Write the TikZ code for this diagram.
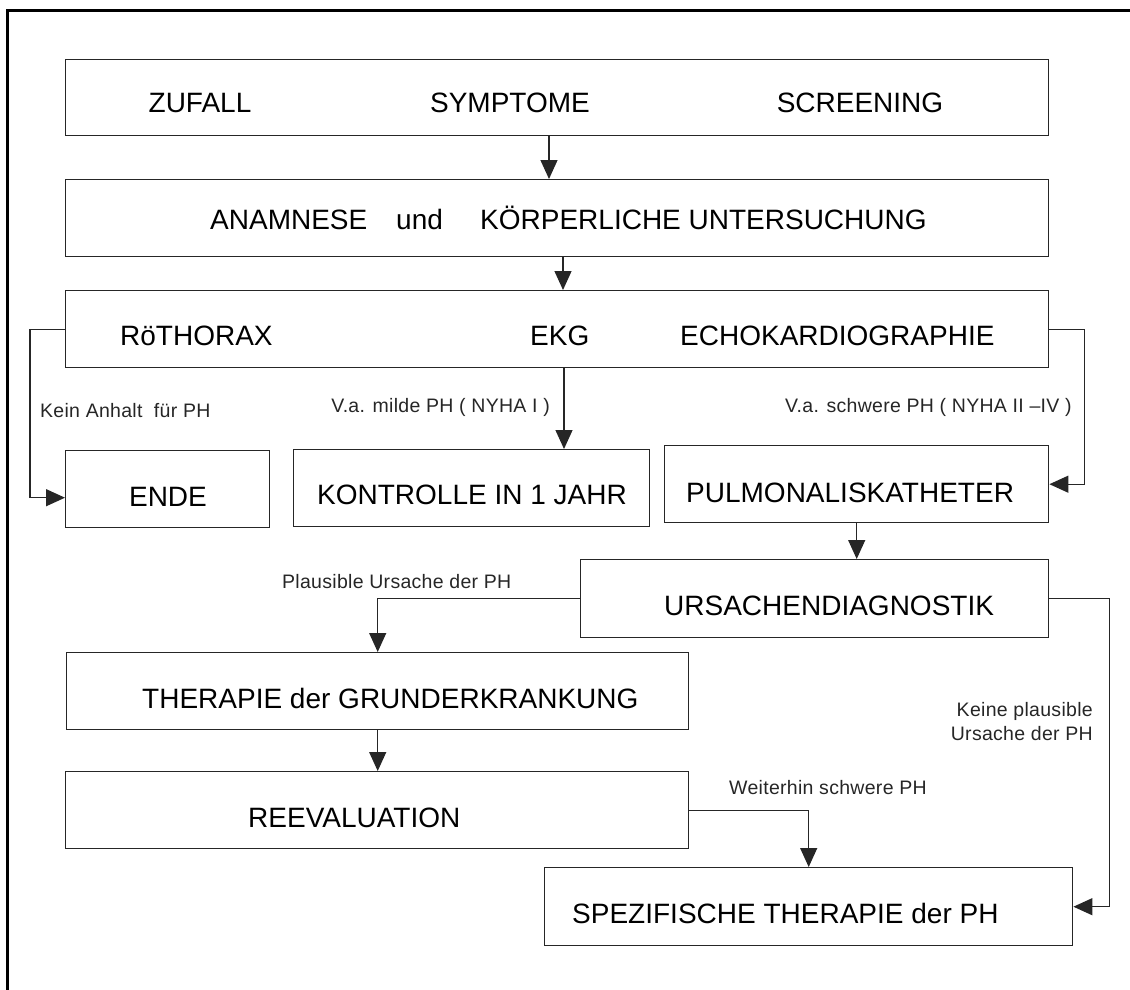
\documentclass[tikz,border=0pt]{standalone}
\usepackage{fontspec}
\setmainfont{Liberation Sans}
\newfontfamily\smallfont[LetterSpace=1.5]{Liberation Sans}
\usetikzlibrary{arrows.meta,calc}
\begin{document}
\begin{tikzpicture}[x=1pt,y=-1pt,
  box/.style={draw=black!85,line width=1.4pt,rectangle,inner sep=0pt,anchor=north west},
  big/.style={anchor=base west,inner sep=0pt,font=\fontsize{28}{32}\selectfont},
  bigc/.style={anchor=base,inner sep=0pt,font=\fontsize{28}{32}\selectfont},
  small/.style={inner sep=0pt,text=black!85,font=\smallfont\fontsize{19.5}{23}\selectfont},
  conn/.style={draw=black!85,line width=1.3pt,-{Triangle[length=19pt,width=17pt]}}]
\useasboundingbox (0,0) rectangle (1130,990);
\clip (0,0) rectangle (1130,990);
% outer frame
\draw[line width=3pt] (7,11) rectangle (1200,1100);
% boxes
\node[box,minimum width=983pt,minimum height=76pt] (b1) at (65,59) {};
\node[box,minimum width=983pt,minimum height=77pt] (b2) at (65,179) {};
\node[box,minimum width=983pt,minimum height=77pt] (b3) at (65,290) {};
\node[box,minimum width=204pt,minimum height=77pt] (ende) at (65,450) {};
\node[box,minimum width=356pt,minimum height=77pt] (kontr) at (293,449) {};
\node[box,minimum width=384pt,minimum height=77pt] (pulm) at (664,445) {};
\node[box,minimum width=468pt,minimum height=78pt] (urs) at (580,559) {};
\node[box,minimum width=622pt,minimum height=77pt] (ther) at (66,652) {};
\node[box,minimum width=623pt,minimum height=77pt] (reev) at (65,771) {};
\node[box,minimum width=528pt,minimum height=78pt] (spez) at (544,867) {};
% box texts
\node[bigc] (t1a) at (200,113) {ZUFALL};
\node[bigc] (t1b) at (510,113) {SYMPTOME};
\node[bigc] (t1c) at (860,113) {SCREENING};
\node[big] (t2a) at (210,229) {ANAMNESE};
\node[big] (t2b) at (396,229) {und};
\node[big] (t2c) at (480,229) {KÖRPERLICHE UNTERSUCHUNG};
\node[big] (t3a) at (120,345) {RöTHORAX};
\node[big] (t3b) at (530,345) {EKG};
\node[big] (t3c) at (680,345) {ECHOKARDIOGRAPHIE};
\node[bigc] (tende) at (168,506) {ENDE};
\node[big] (tkontr) at (317,504) {KONTROLLE IN 1 JAHR};
\node[big] (tpulm) at (686,502) {PULMONALISKATHETER};
\node[big] (turs) at (664,615) {URSACHENDIAGNOSTIK};
\node[big] (tther) at (142,708) {THERAPIE der GRUNDERKRANKUNG};
\node[big] (treev) at (248,827) {REEVALUATION};
\node[big] (tspez) at (572,923) {SPEZIFISCHE THERAPIE der PH};
% connectors
\coordinate (c12) at (549,135);
\coordinate (c23) at (563,256);
\coordinate (c3k) at (564,367);
\draw[conn] (c12) -- (c12 |- b2.north);
\draw[conn] (c23) -- (c23 |- b3.north);
\draw[conn] (b3.west) -- ++(-35,0) |- ([yshift=-8.5pt]ende.west);
\draw[conn] (c3k) -- (c3k |- kontr.north);
\draw[conn] (b3.east) -- ++(35,0) |- (pulm.east);
\draw[conn] (pulm.south) -- (pulm.south |- urs.north);
\draw[conn] (urs.west) -| (ther.north);
\draw[conn] (ther.south) -- (ther.south |- reev.north);
\draw[conn] (reev.east) -| (spez.north);
\draw[conn] (urs.east) -- ++(60,0) |- (spez.east);
% labels
\node[small,anchor=base west] (l1) at (40,417) {Kein Anhalt\ \ für PH};
\node[small,anchor=base east] (l2) at (550,412) {V.a. milde PH ( NYHA I )};
\node[small,anchor=base west] (l3) at (785,412) {V.a. schwere PH ( NYHA II –IV )};
\node[small,anchor=base west] (l4) at (282,588) {Plausible Ursache der PH};
\node[small,anchor=base east] (l5) at (1093,716) {Keine plausible};
\node[small,anchor=base east] (l6) at (1093,740) {Ursache der PH};
\node[small,anchor=base west] (l7) at (729,794) {Weiterhin schwere PH};
\end{tikzpicture}
\end{document}
